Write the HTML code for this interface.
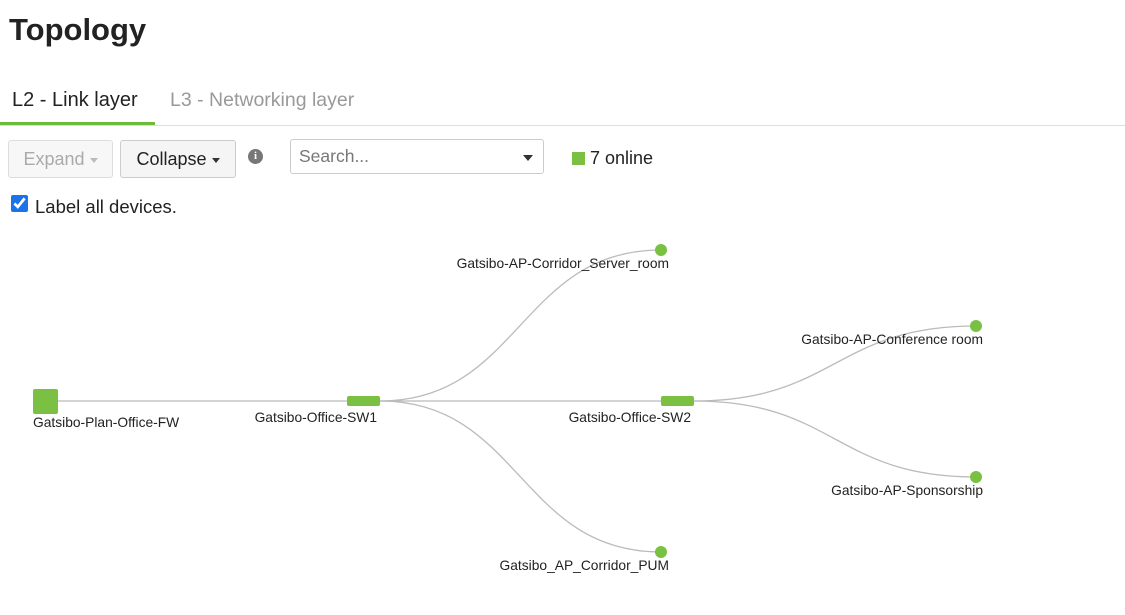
<!DOCTYPE html>
<html><head><meta charset="utf-8"><style>
body{margin:0;width:1125px;height:615px;background:#fff;font-family:"Liberation Sans",sans-serif;color:#222;position:relative;overflow:hidden}
.a{position:absolute}
.btn{position:absolute;border:1px solid #ccc;border-radius:3px;font-size:18px;box-sizing:border-box;display:flex;align-items:center;justify-content:center}
.caret{display:inline-block;border-left:4px solid transparent;border-right:4px solid transparent;border-top:5px solid #333;margin-left:5px;margin-top:2px}
</style></head><body>
<div class="a" style="left:9px;top:12px;font-size:31px;font-weight:bold">Topology</div>
<div class="a" style="left:12px;top:89px;font-size:20px;color:#222">L2 - Link layer</div>
<div class="a" style="left:170px;top:89px;font-size:19.5px;color:#999">L3 - Networking layer</div>
<div class="a" style="left:0;top:125px;width:1125px;height:1px;background:#ddd"></div>
<div class="a" style="left:0;top:122px;width:155px;height:3px;background:#6cbb3c"></div>
<div class="btn" style="left:8px;top:140px;width:105px;height:38px;color:#aaa;background:#f7f7f7;border-color:#ddd">Expand<span class="caret" style="border-top-color:#bbb"></span></div>
<div class="btn" style="left:120px;top:140px;width:116px;height:38px;background:#f5f5f5">Collapse<span class="caret"></span></div>
<div class="a" style="left:248px;top:149px;width:15px;height:15px;border-radius:50%;background:#777;color:#fff;font-size:11px;font-weight:bold;text-align:center;line-height:15px;font-family:'Liberation Serif',serif">i</div>
<div class="btn" style="left:290px;top:139px;width:254px;height:35px;justify-content:space-between;padding:0 10px 0 8px;color:#777;font-size:17.5px"><span>Search...</span><span class="caret" style="border-left-width:5px;border-right-width:5px;border-top-width:6px"></span></div>
<div class="a" style="left:572px;top:152px;width:13px;height:13px;background:#7ac143"></div>
<div class="a" style="left:590px;top:148px;font-size:18px">7 online</div>
<input type="checkbox" checked class="a" style="left:11px;top:195px;width:17px;height:17px;margin:0;accent-color:#1a73e8">
<div class="a" style="left:35px;top:196px;font-size:18.5px">Label all devices.</div>
<svg class="a" style="left:0;top:0" width="1125" height="615">
<g fill="none" stroke="#bbb" stroke-width="1.3">
<path d="M58 401H347"/>
<path d="M380 401H661"/>
<path d="M380 401C520 401 520 250 661 250"/>
<path d="M380 401C520 401 520 552 661 552"/>
<path d="M694 401C835 401 835 326 976 326"/>
<path d="M694 401C835 401 835 477 976 477"/>
</g>
<g fill="#7ac143">
<rect x="33" y="389" width="25" height="25" rx="2"/>
<rect x="347" y="396" width="33" height="10" rx="2"/>
<rect x="661" y="396" width="33" height="10" rx="2"/>
<circle cx="661" cy="250" r="6"/>
<circle cx="976" cy="326" r="6"/>
<circle cx="976" cy="477" r="6"/>
<circle cx="661" cy="552" r="6"/>
</g>
<g font-family="Liberation Sans,sans-serif" font-size="13.8" fill="#222">
<text x="33" y="427">Gatsibo-Plan-Office-FW</text>
<text x="377" y="422" text-anchor="end">Gatsibo-Office-SW1</text>
<text x="691" y="422" text-anchor="end">Gatsibo-Office-SW2</text>
<text x="669" y="268" text-anchor="end">Gatsibo-AP-Corridor_Server_room</text>
<text x="983" y="344" text-anchor="end">Gatsibo-AP-Conference room</text>
<text x="983" y="495" text-anchor="end">Gatsibo-AP-Sponsorship</text>
<text x="669" y="570" text-anchor="end">Gatsibo_AP_Corridor_PUM</text>
</g>
</svg>
</body></html>
